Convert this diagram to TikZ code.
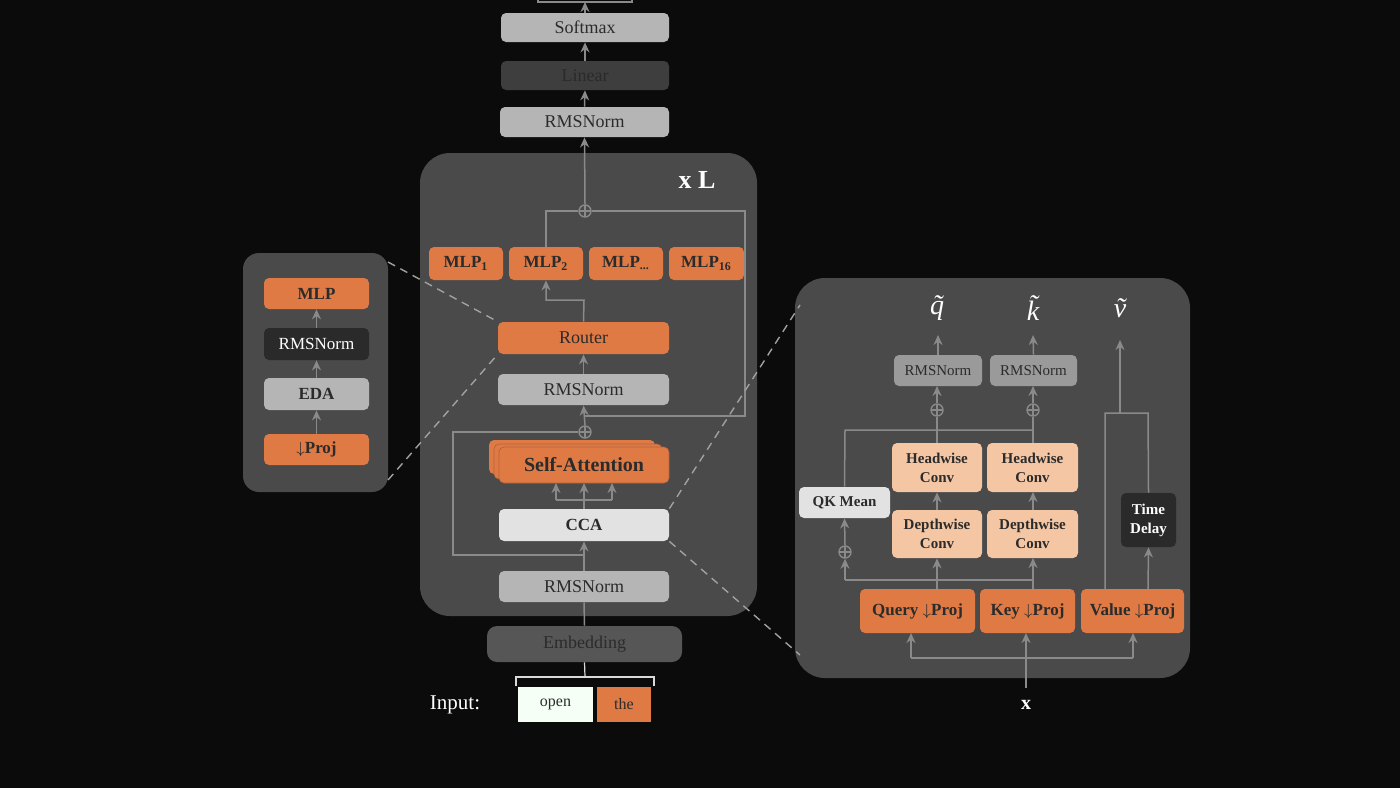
\documentclass[tikz,border=0pt]{standalone}
\usepackage{fontspec}
\setmainfont{Liberation Serif}
\usetikzlibrary{arrows.meta}
\definecolor{bgc}{HTML}{0B0B0B}
\definecolor{panel}{HTML}{4A4A4A}
\definecolor{lgray}{HTML}{B5B5B5}
\definecolor{mgray}{HTML}{9A9A9A}
\definecolor{dgray}{HTML}{3E3E3E}
\definecolor{blk}{HTML}{2A2A2A}
\definecolor{org}{HTML}{DF7A45}
\definecolor{peach}{HTML}{F5C6A3}
\definecolor{wgray}{HTML}{E2E2E2}
\definecolor{linec}{HTML}{8A8A8A}
\definecolor{txt}{HTML}{2B2B2B}
\newcommand\bx[7]{\node[box,#6,minimum width={(#4-#2)*0.5pt},minimum height={(#5-#3)*0.5pt}] (#1) at ({(#2+#4)/2},{(#3+#5)/2}) {#7};}
\begin{document}
\begin{tikzpicture}[x=0.5pt,y=-0.5pt,
  box/.style={rounded corners=2.5pt,inner sep=0pt,text=txt,font=\fontsize{9}{10}\selectfont,align=center},
  bd/.style={font=\bfseries\fontsize{8.5}{9.5}\selectfont},
  sm/.style={font=\bfseries\fontsize{7.5}{9.5}\selectfont},
  arr/.style={draw=linec,line width=0.75pt,-{Stealth[length=5pt,width=4.5pt]}},
  ln/.style={draw=linec,line width=0.75pt},
  dsh/.style={draw=linec!80,line width=0.7pt,dash pattern=on 4pt off 3pt},
  gr/.style={text=white,font=\itshape\fontsize{14}{15}\selectfont},
  pl/.style={circle,draw=linec,line width=0.7pt,minimum size=6pt,inner sep=0pt,
    path picture={\draw[linec,line width=0.6pt] (path picture bounding box.north)--(path picture bounding box.south) (path picture bounding box.west)--(path picture bounding box.east);}}]
\path[fill=bgc,use as bounding box] (0,0) rectangle (1400,788);
% panels
\path[fill=panel,rounded corners=15pt] (420,153) rectangle (757,616);
\path[fill=panel,rounded corners=8pt] (243,253) rectangle (388,492);
\path[fill=panel,rounded corners=15pt] (795,278) rectangle (1190,678);
% top stack
\draw[linec,line width=0.7pt] (538,-20) rectangle (632,2);
\bx{sm}{501}{13}{669}{42}{fill=lgray}{Softmax}
\bx{lin}{501}{61}{669}{90}{fill=dgray,text=blk}{Linear}
\bx{rn1}{500}{107}{669}{137}{fill=lgray}{RMSNorm}
\draw[arr] (sm.north) -- (585,2);
\draw[arr] (lin.north) -- (sm.south);
\draw[arr] (rn1.north) -- (lin.south);
\node[text=white,font=\bfseries\fontsize{13}{14}\selectfont] (xl) at (697,180) {x L};
% MLPs
\bx{m1}{429}{247}{503}{280}{fill=org,bd}{MLP\textsubscript{1}}
\bx{m2}{509}{247}{583}{280}{fill=org,bd}{MLP\textsubscript{2}}
\bx{m3}{589}{247}{663}{280}{fill=org,bd}{MLP\textsubscript{...}}
\bx{m4}{669}{247}{744}{280}{fill=org,bd}{MLP\textsubscript{16}}
\node[pl] (p1) at (585,211) {};
\draw[arr] (p1.north) -- (rn1.south);
\draw[ln] (p1.west) -- (546,211) -- (m2.north);
\draw[ln] (p1.east) -- (745,211) -- (745,416) -- (585,416);
\bx{rt}{498}{322}{669}{354}{fill=org}{Router}
\draw[arr] (rt.north) -- (584,300) -- (546,300) -- (m2.south);
\bx{rn2}{498}{374}{669}{405}{fill=lgray}{RMSNorm}
\draw[arr] (rn2.north) -- (rt.south);
\node[pl] (p2) at (585,432) {};
\draw[arr] (p2.north) -- (rn2.south);
% self attention stack
\path[fill=org,rounded corners=2.5pt] (489,440) rectangle (655,474);
\path[fill=org,rounded corners=2.5pt,draw=org!80!black,line width=0.3pt] (494,444) rectangle (662,479);
\bx{sa}{499}{447}{669}{483}{fill=org,draw=org!80!black,line width=0.3pt,font=\bfseries\fontsize{10}{11}\selectfont}{Self-Attention}
\bx{cca}{499}{509}{669}{541}{fill=wgray,bd}{CCA}
\draw[ln] (cca.north) -- (584,500);
\draw[ln] (556,500) -- (612,500);
\draw[arr] (556,500) -- (556,483);
\draw[arr] (584,500) -- (584,483);
\draw[arr] (612,500) -- (612,483);
\draw[ln] (p2.west) -- (453,432) -- (453,555) -- (585,555);
\bx{rn3}{499}{571}{669}{602}{fill=lgray}{RMSNorm}
\bx{emb}{487}{626}{682}{662}{fill=dgray!80!lgray,rounded corners=5pt}{Embedding}
\draw[ln] (emb.north) -- (rn3.south);
\draw[arr] (rn3.north) -- (cca.south);
% input
\draw[ln,line width=0.6pt,draw=white!85!black] (516,686) -- (516,677) -- (654,677) -- (654,686);
\draw[ln,line width=0.6pt,draw=white!85!black] (585,677) -- (emb.south);
\node[text=white,font=\fontsize{10.5}{12}\selectfont] (inp) at (455,705) {Input:};
\node[box,rounded corners=0pt,fill=white!90!green!40!white,minimum width=37.5pt,minimum height=17.5pt,font=\fontsize{8}{9}\selectfont] (op) at (555.5,704.5) {open};
\node[box,rounded corners=0pt,fill=org,minimum width=27pt,minimum height=17.5pt,font=\fontsize{8}{9}\selectfont] (th) at (624,704.5) {the};
% left panel
\bx{lm}{264}{278}{369}{309}{fill=org,bd}{MLP}
\bx{lr}{264}{328}{369}{360}{fill=blk,text=white,font=\fontsize{8.5}{9.5}\selectfont}{RMSNorm}
\bx{le}{264}{378}{369}{410}{fill=lgray,bd}{EDA}
\bx{lp}{264}{434}{369}{465}{fill=org,bd}{$\downarrow$Proj}
\draw[arr] (lr.north) -- (lm.south);
\draw[arr] (le.north) -- (lr.south);
\draw[arr] (lp.north) -- (le.south);
\draw[dsh] (388,262) -- (rt.north west);
\draw[dsh] (388,480) -- (rt.south west);
\draw[dsh] (cca.north east) -- (800,305);
\draw[dsh] (cca.south east) -- (800,655);
% right panel
\node[gr] (qt) at (937,308) {\~{q}};
\node[gr] (kt) at (1033,308) {\~{k}};
\node[gr] (vt) at (1120,308) {\~{v}};
\bx{rq}{894}{355}{982}{386}{fill=mgray,font=\fontsize{7.5}{9}\selectfont}{RMSNorm}
\bx{rk}{990}{355}{1077}{386}{fill=mgray,font=\fontsize{7.5}{9}\selectfont}{RMSNorm}
\draw[arr] (rq.north) -- (938,335);
\draw[arr] (rk.north) -- (1033,335);
\node[pl] (pq) at (937,410) {};
\node[pl] (pk) at (1033,410) {};
\draw[arr] (pq.north) -- (937,386);
\draw[arr] (pk.north) -- (1033,386);
\bx{hq}{892}{443}{982}{492}{fill=peach,sm}{Headwise\\Conv}
\bx{hk}{987}{443}{1078}{492}{fill=peach,sm}{Headwise\\Conv}
\bx{dq}{892}{510}{982}{558}{fill=peach,sm}{Depthwise\\Conv}
\bx{dk}{987}{510}{1078}{558}{fill=peach,sm}{Depthwise\\Conv}
\draw[ln] (hq.north) -- (pq.south);
\draw[ln] (1033,443) -- (pk.south);
\draw[arr] (dq.north) -- (hq.south);
\draw[arr] (1033,510) -- (1033,492);
\bx{qk}{799}{487}{890}{518}{fill=wgray,sm}{QK Mean}
\draw[ln] (qk.north) -- (845,430) -- (1033,430);
\node[pl] (pm) at (845,552) {};
\draw[arr] (pm.north) -- (qk.south);
\bx{qp}{860}{589}{975}{633}{fill=org,bd}{Query $\downarrow$Proj}
\bx{kp}{980}{589}{1075}{633}{fill=org,bd}{Key $\downarrow$Proj}
\bx{vp}{1081}{589}{1184}{633}{fill=org,bd}{Value $\downarrow$Proj}
\draw[arr] (937,589) -- (dq.south);
\draw[arr] (1033,589) -- (1033,558);
\draw[ln] (1033,580) -- (845,580);
\draw[arr] (845,580) -- (pm.south);
\bx{td}{1121}{493}{1176}{547}{fill=blk,text=white,sm}{Time\\Delay}
\draw[ln] (1105,589) -- (1105,413) -- (1148,413) -- (td.north);
\draw[arr] (1120,413) -- (1120,340);
\draw[arr] (1148,589) -- (td.south);
\node[text=white,font=\bfseries\fontsize{10}{11}\selectfont] (x) at (1026,705) {x};
\draw[arr] (1026,688) -- (1026,633);
\draw[ln] (911,658) -- (1133,658);
\draw[arr] (911,658) -- (911,633);
\draw[arr] (1133,658) -- (1133,633);
\end{tikzpicture}
\end{document}
